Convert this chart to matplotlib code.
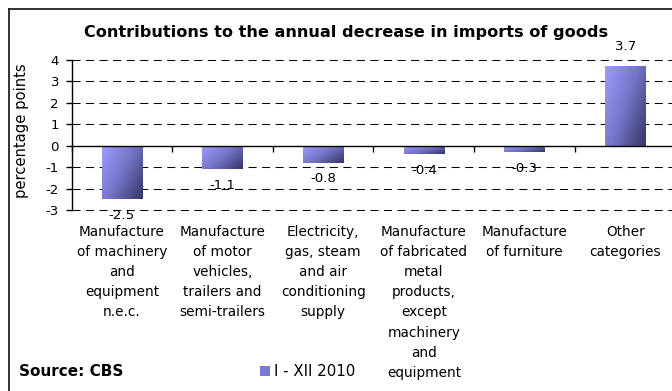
import numpy as np
import matplotlib
matplotlib.use("Agg")
import matplotlib.pyplot as plt
from matplotlib.colors import LinearSegmentedColormap
from matplotlib.patches import Rectangle

plt.rcParams['font.family'] = ['DejaVu Sans']

# data
categories = [
    "Manufacture\nof machinery\nand\nequipment\nn.e.c.",
    "Manufacture\nof motor\nvehicles,\ntrailers and\nsemi-trailers",
    "Electricity,\ngas, steam\nand air\nconditioning\nsupply",
    "Manufacture\nof fabricated\nmetal\nproducts,\nexcept\nmachinery\nand\nequipment",
    "Manufacture\nof furniture",
    "Other\ncategories",
]
values = [-2.5, -1.1, -0.8, -0.4, -0.3, 3.7]
value_labels = ["-2.5", "-1.1", "-0.8", "-0.4", "-0.3", "3.7"]
series_name = "I - XII 2010"

fig = plt.figure(figsize=(6.72, 3.91), dpi=100)
W, H = 672, 391
ax = fig.add_axes([71.5 / W, 1 - 210 / H, 604 / W, 150 / H])

x = np.arange(len(values))
bars = ax.bar(x, values, width=0.4, color='#8080d0', zorder=3)

# diagonal gradient, light top-left -> dark bottom-right
cmap = LinearSegmentedColormap.from_list('g', ['#9d9dff', '#7474c8', '#363664'])
gx, gy = np.meshgrid(np.linspace(0, 1, 60), np.linspace(0, 1, 60))
grad = 0.6 * gx + 0.4 * gy
for b in bars:
    b.set_facecolor('none')
    bx, bw = b.get_x(), b.get_width()
    y0, y1 = sorted([b.get_y(), b.get_y() + b.get_height()])
    im = ax.imshow(grad, cmap=cmap, extent=(bx, bx + bw, y0, y1),
                   origin='upper', aspect='auto', zorder=3, interpolation='bilinear')
    im.set_clip_path(b)

ax.set_xlim(-0.5, len(values) - 0.5)
ax.set_ylim(-3, 4)
ax.set_yticks(range(-3, 5))
ax.set_yticklabels([str(v) for v in range(-3, 5)], fontsize=9.6)

# dashed grid lines (except zero)
for v in range(-3, 5):
    if v != 0:
        ax.axhline(v, color='black', lw=0.75, ls=(0, (7.7, 5.3)), zorder=1,
                   clip_on=False)

for s in ['top', 'right']:
    ax.spines[s].set_visible(False)
ax.spines['bottom'].set_position(('data', 0))
ax.spines['bottom'].set_linewidth(1.0)
ax.spines['left'].set_linewidth(1.0)
ax.spines['bottom'].set_zorder(4)

ax.set_xticks(np.arange(len(values) + 1) - 0.5)
ax.set_xticklabels([])
ax.tick_params(axis='x', direction='out', length=4, width=1)
ax.tick_params(axis='y', direction='out', length=4, width=1, pad=5)

ax.set_ylabel("percentage points", fontsize=10.6)
ax.yaxis.set_label_coords(-0.070, 0.527)

# value labels
for xi, v, lab in zip(x, values, value_labels):
    off = 14 if v > 0 else -11.5
    ax.annotate(lab, (xi, v), xytext=(0, off), textcoords='offset points',
                ha='center', va='center', fontsize=9.6, zorder=5)

# category labels below plot
for xi, lab in zip(x, categories):
    ax.annotate(lab, (xi, -3), xytext=(0, -11), textcoords='offset points',
                ha='center', va='top', fontsize=9.8, linespacing=1.55,
                annotation_clip=False)

fig.text(346 / W, 1 - 32 / H, "Contributions to the annual decrease in imports of goods",
         ha='center', va='center', fontsize=11.6, fontweight='bold')
fig.text(19 / W, 1 - 372 / H, "Source: CBS", ha='left', va='center',
         fontsize=11, fontweight='bold')

# legend
fig.patches.append(Rectangle((259.5 / W, 1 - 376 / H), 10.5 / W, 10 / H,
                             transform=fig.transFigure, facecolor='#7a7ad6',
                             edgecolor='none'))
fig.text(274 / W, 1 - 371 / H, series_name, ha='left', va='center', fontsize=10.8)

# outer frame (left and top only visible)
fig.add_artist(plt.Line2D([9 / W, 9 / W], [0, 1 - 8.5 / H], transform=fig.transFigure,
                          color='#222222', lw=1.3))
fig.add_artist(plt.Line2D([9 / W, 1], [1 - 8.5 / H, 1 - 8.5 / H], transform=fig.transFigure,
                          color='#222222', lw=1.3))

fig.savefig("out.png", dpi=100)
